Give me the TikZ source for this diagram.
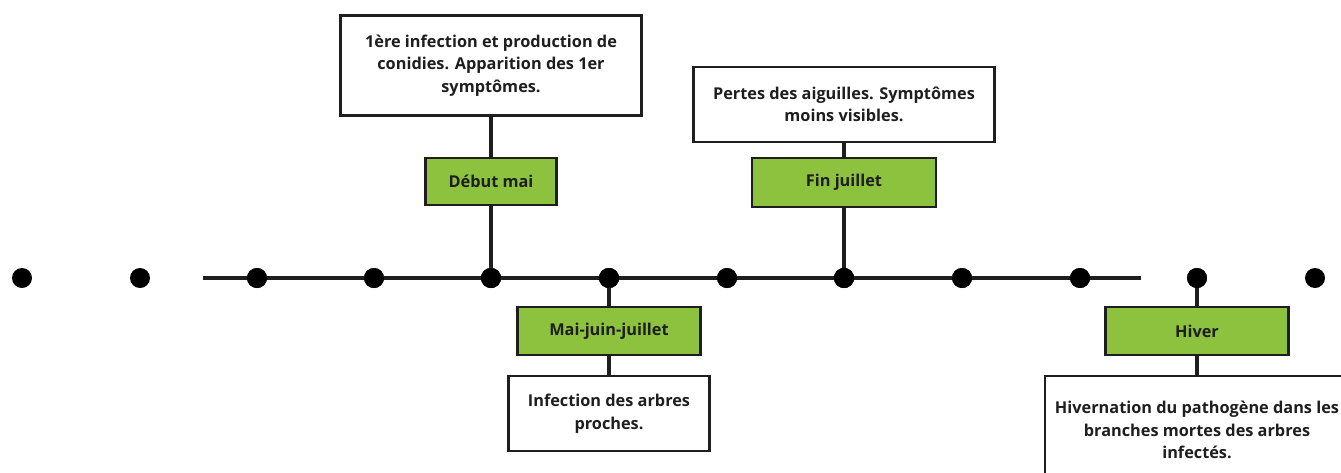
\documentclass[tikz,border=0pt]{standalone}
\usepackage{fontspec}
\setmainfont{Open Sans}
\definecolor{leaf}{RGB}{141,194,62}
\definecolor{ink}{RGB}{30,30,30}
\begin{document}
\begin{tikzpicture}[x=1pt,y=-1pt,
  wbox/.style={draw=ink,line width=2.5pt,fill=white,align=center,inner sep=0pt,
     font=\fontsize{16.3}{22.5}\selectfont\bfseries,text=ink},
  gbox/.style={draw=ink,line width=2.5pt,fill=leaf,align=center,inner sep=0pt,
     font=\fontsize{16.3}{20}\selectfont\bfseries,text=ink},
  dot/.style={circle,fill=black,minimum size=20pt,inner sep=0pt},
  conn/.style={draw=ink,line width=3.5pt}]
\useasboundingbox (0,0) rectangle (1341,472);
\clip (0,0) rectangle (1341,472);
% dots
\foreach \i/\x in {1/22,2/140,3/257,4/374,5/491,6/609,7/727,8/844,9/962,10/1080,11/1197,12/1315}
  \node[dot] (d\i) at (\x,278) {};
\coordinate (ls) at (203,278);
\coordinate (le) at (1141,278);
\draw[conn] (ls) -- (le);
\foreach \i in {3,...,10} \node[dot] at (d\i) {};
% boxes
\node[wbox,minimum width=301pt,minimum height=100pt] (b1) at (491,65.5)
  {1ère infection et production de\\conidies. Apparition des 1er\\symptômes.};
\node[gbox,minimum width=131pt,minimum height=47pt] (g1) at (491,181.5) {Début mai};
\node[wbox,minimum width=301pt,minimum height=75pt] (b2) at (844,104.5)
  {Pertes des aiguilles. Symptômes\\moins visibles.};
\node[gbox,minimum width=184pt,minimum height=49pt] (g2) at (844,182.5) {Fin juillet};
\node[gbox,minimum width=183pt,minimum height=48pt] (g3) at (609,331) {Mai-juin-juillet};
\node[wbox,minimum width=201pt,minimum height=75pt] (b3) at (609,413.5)
  {Infection des arbres\\proches.};
\node[gbox,minimum width=183pt,minimum height=48pt] (g4) at (1197,331) {Hiver};
\node[wbox,minimum width=304pt,minimum height=108pt] (b4) at (1197,430)
  {Hivernation du pathogène dans les\\branches mortes des arbres\\infectés.};
% connectors
\draw[conn] (b1.south) -- (g1.north);
\draw[conn] (g1.south) -- (d5.center);
\draw[conn] (b2.south) -- (g2.north);
\draw[conn] (g2.south) -- (d8.center);
\draw[conn] (d6.center) -- (g3.north);
\draw[conn] (g3.south) -- (b3.north);
\draw[conn] (d11.center) -- (g4.north);
\draw[conn] (g4.south) -- (b4.north);
\node[dot] at (d5) {};
\node[dot] at (d6) {};
\node[dot] at (d8) {};
\node[dot] at (d11) {};
\end{tikzpicture}
\end{document}
